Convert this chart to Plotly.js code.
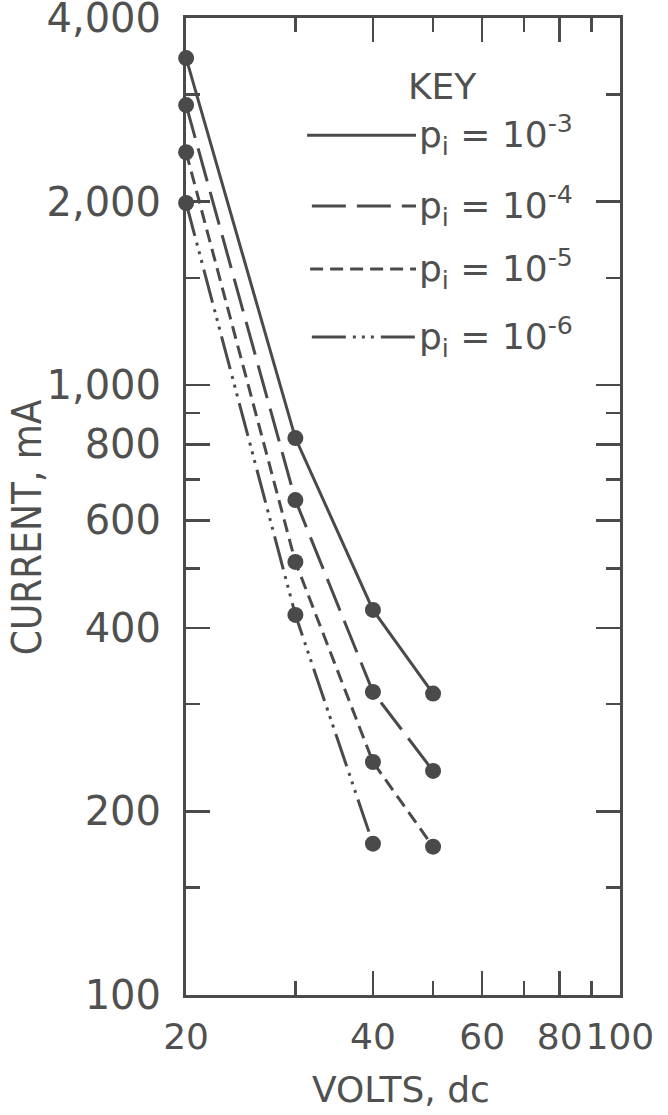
<!DOCTYPE html>
<html><head><meta charset="utf-8">
<script src="https://cdn.plot.ly/plotly-3.0.1.min.js"></script>
<style>html,body{margin:0;padding:0;background:#fff}</style>
</head><body><div id="chart" style="width:668px;height:1115px"></div>
<script>
// ---- data ----
const volts = [20, 30, 40, 50];
const volts_p6 = [20, 30, 40];
const current_p3 = [3440, 819, 428, 312];
const current_p4 = [2880, 648, 314, 233];
const current_p5 = [2410, 513, 241, 175];
const current_p6 = [1990, 420, 177];
const seriesLabels = ['p<sub>i</sub> = 10<sup>-3</sup>', 'p<sub>i</sub> = 10<sup>-4</sup>',
                      'p<sub>i</sub> = 10<sup>-5</sup>', 'p<sub>i</sub> = 10<sup>-6</sup>'];
const xTickVals = [20, 40, 60, 80, 100];
const xTickText = ['20', '40', '60', '80', '100'];
const xMinorVals = [30, 50, 70, 90];
const yTickVals = [100, 200, 400, 600, 800, 1000, 2000, 4000];
const yTickText = ['100', '200', '400', '600', '800', '1,000', '2,000', '4,000'];
const yMinorVals = [150, 300, 500, 700, 900, 1500, 3000];

// ---- styles ----
const ink = '#4a4a4a';
const txt = '#505050';
const dashes = ['solid', '34px,11px', '13px,7px', '34px,7px,3px,6px,3px,6px,3px,7px'];
const fontFam = 'DejaVu Sans, Verdana, sans-serif';
const eps = 2e-4;

function mk(x, y, dash) {
  return {
    x: x, y: y, type: 'scatter', mode: 'lines+markers', cliponaxis: false,
    line: {color: ink, width: 3, dash: dash},
    marker: {color: ink, size: 16},
    showlegend: false, hoverinfo: 'skip'
  };
}
const data = [
  mk(volts, current_p3, dashes[0]),
  mk(volts, current_p4, dashes[1]),
  mk(volts, current_p5, dashes[2]),
  mk(volts_p6, current_p6, dashes[3])
];

// legend drawn in paper coordinates
const legRows = [0.880, 0.8076, 0.743, 0.6735];
const legX0 = [0.279, 0.290, 0.286, 0.290];
const legX1 = 0.530;
const shapes = legRows.map((y, i) => ({
  type: 'line', xref: 'paper', yref: 'paper', x0: legX0[i], x1: legX1, y0: y, y1: y,
  line: {color: ink, width: 3, dash: dashes[i]}
}));
const annotations = legRows.map((y, i) => ({
  xref: 'paper', yref: 'paper', x: 0.533, y: y, xanchor: 'left', yanchor: 'middle',
  text: seriesLabels[i], showarrow: false, font: {family: fontFam, size: 36, color: txt}
}));
annotations.push({xref: 'paper', yref: 'paper', x: 0.590, y: 0.930, xanchor: 'center', yanchor: 'middle',
  text: 'KEY', showarrow: false, font: {family: fontFam, size: 36, color: txt}});
annotations.push({xref: 'paper', yref: 'paper', x: -0.366, y: 0.479, xanchor: 'center', yanchor: 'middle',
  text: 'CURRENT, mA', textangle: -90, showarrow: false,
  font: {family: 'DejaVu Sans Condensed, Liberation Sans Narrow, DejaVu Sans, sans-serif', size: 40, color: txt}});
annotations.push({xref: 'paper', yref: 'paper', x: 0.495, y: -0.097, xanchor: 'center', yanchor: 'middle',
  text: 'VOLTS, dc', showarrow: false, font: {family: fontFam, size: 36, color: txt}});

const axisCommon = {
  showgrid: false, zeroline: false, showline: true, linecolor: ink, linewidth: 3,
  mirror: 'ticks', ticks: 'inside', ticklen: 24, tickwidth: 2.5, tickcolor: ink,
  tickfont: {family: fontFam, size: 40, color: txt}, tickmode: 'array',
  ticklabeloverflow: 'allow', tickangle: 0
};

const layout = {
  width: 668, height: 1115,
  margin: {l: 186, r: 48, t: 18, b: 120},
  paper_bgcolor: '#fff', plot_bgcolor: '#fff',
  xaxis: Object.assign({}, axisCommon, {
    type: 'log', range: [Math.log10(20) - eps, Math.log10(100) + eps],
    tickvals: xTickVals, ticktext: xTickText, ticklabelstandoff: 8,
    tickfont: {family: fontFam, size: 36, color: txt},
    minor: {tickmode: 'array', tickvals: xMinorVals, ticks: 'inside', ticklen: 14, tickwidth: 2.5, tickcolor: ink, showgrid: false}
  }),
  yaxis: Object.assign({}, axisCommon, {
    type: 'log', range: [2 - eps, Math.log10(4000) + eps],
    tickvals: yTickVals, ticktext: yTickText, ticklabelstandoff: 14,
    minor: {tickmode: 'array', tickvals: yMinorVals, ticks: 'inside', ticklen: 14, tickwidth: 2.5, tickcolor: ink, showgrid: false}
  }),
  shapes: shapes,
  annotations: annotations
};

Plotly.newPlot('chart', data, layout, {staticPlot: true});
</script>
</body></html>
